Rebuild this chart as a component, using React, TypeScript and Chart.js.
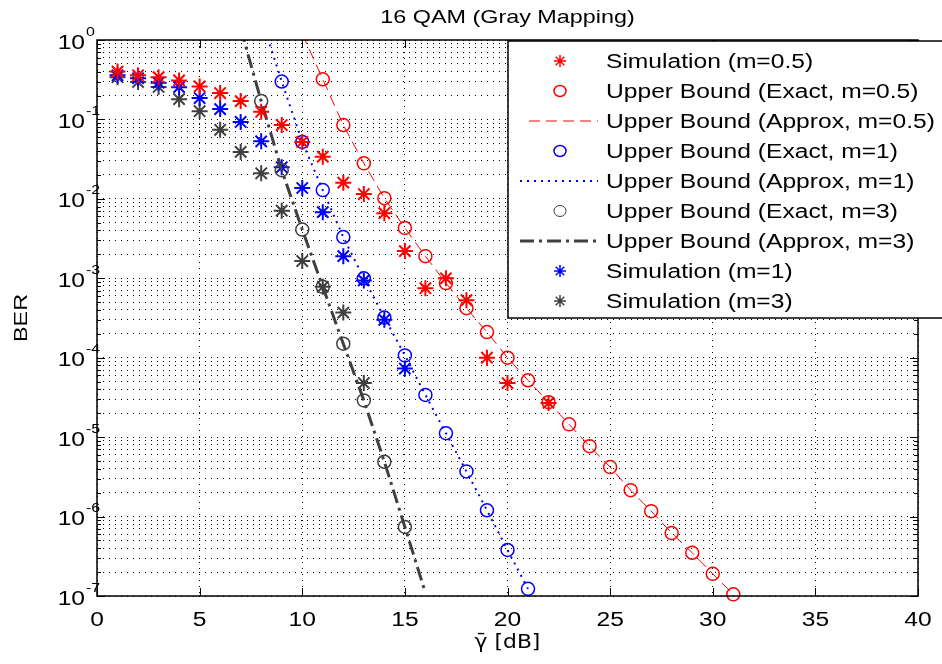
import React, { useEffect, useRef } from 'react';
import { Chart, registerables } from 'chart.js';
Chart.register(...registerables);

// ---------- data ----------
const titleText = '16 QAM (Gray Mapping)';
const xAxisLabel = 'γ̄ [dB]';
const yAxisLabel = 'BER';
const xTickValues = [0, 5, 10, 15, 20, 25, 30, 35, 40];
const yDecadeExponents = [0, -1, -2, -3, -4, -5, -6, -7];

const simM05X = [1, 2, 3, 4, 5, 6, 7, 8, 9, 10, 11, 12, 13, 14, 15, 16, 17, 18, 19, 20, 22];
const simM05Y = [0.40, 0.36, 0.34, 0.31, 0.26, 0.215, 0.17, 0.125, 0.085, 0.052, 0.034, 0.016, 0.0115, 0.0066, 0.0022, 7.5e-4, 1.0e-3, 5.3e-4, 1.0e-4, 4.8e-5, 2.7e-5];

const exactM05X = [11, 12, 13, 14, 15, 16, 17, 18, 19, 20, 21, 22, 23, 24, 25, 26, 27, 28, 29, 30, 31];
const exactM05Y = [0.32, 0.085, 0.028, 0.0102, 0.0043, 0.0019, 8.7e-4, 4.2e-4, 2.1e-4, 1.0e-4, 5.2e-5, 2.75e-5, 1.45e-5, 7.7e-6, 4.2e-6, 2.15e-6, 1.17e-6, 6.2e-7, 3.5e-7, 1.9e-7, 1.05e-7];

const approxM05X = [10, 11, 12, 13, 14, 15, 16, 17, 18, 19, 20, 21, 22, 23, 24, 25, 26, 27, 28, 29, 30, 31];
const approxM05Y = [1.2, 0.32, 0.085, 0.028, 0.0102, 0.0043, 0.0019, 8.7e-4, 4.2e-4, 2.1e-4, 1.0e-4, 5.2e-5, 2.75e-5, 1.45e-5, 7.7e-6, 4.2e-6, 2.15e-6, 1.17e-6, 6.2e-7, 3.5e-7, 1.9e-7, 1.05e-7];

const exactM1X = [9, 10, 11, 12, 13, 14, 15, 16, 17, 18, 19, 20, 21];
const exactM1Y = [0.30, 0.052, 0.0129, 0.0033, 1.0e-3, 3.2e-4, 1.07e-4, 3.4e-5, 1.12e-5, 3.7e-6, 1.2e-6, 3.8e-7, 1.23e-7];

const approxM1X = [8, 9, 10, 11, 12, 13, 14, 15, 16, 17, 18, 19, 20, 21];
const approxM1Y = [1.9, 0.30, 0.052, 0.0129, 0.0033, 1.0e-3, 3.2e-4, 1.07e-4, 3.4e-5, 1.12e-5, 3.7e-6, 1.2e-6, 3.8e-7, 1.23e-7];

const exactM3X = [8, 9, 10, 11, 12, 13, 14, 15];
const exactM3Y = [0.17, 0.023, 0.0041, 7.8e-4, 1.5e-4, 2.9e-5, 4.9e-6, 7.4e-7];

const approxM3X = [7, 8, 9, 10, 11, 12, 13, 14, 15, 16];
const approxM3Y = [1.4, 0.17, 0.023, 0.0041, 7.8e-4, 1.5e-4, 2.9e-5, 4.9e-6, 7.4e-7, 1.1e-7];

const simM1X = [1, 2, 3, 4, 5, 6, 7, 8, 9, 10, 11, 12, 13, 14, 15];
const simM1Y = [0.36, 0.33, 0.29, 0.255, 0.186, 0.135, 0.093, 0.053, 0.025, 0.0137, 0.0068, 0.0019, 9.4e-4, 3.0e-4, 7.3e-5];

const simM3X = [1, 2, 3, 4, 5, 6, 7, 8, 9, 10, 11, 12, 13];
const simM3Y = [0.34, 0.296, 0.256, 0.18, 0.127, 0.074, 0.039, 0.021, 0.0071, 0.00165, 7.8e-4, 3.7e-4, 4.8e-5];

const legendLabels = [
  'Simulation (m=0.5)',
  'Upper Bound (Exact, m=0.5)',
  'Upper Bound (Approx, m=0.5)',
  'Upper Bound (Exact, m=1)',
  'Upper Bound (Approx, m=1)',
  'Upper Bound (Exact, m=3)',
  'Upper Bound (Approx, m=3)',
  'Simulation (m=1)',
  'Simulation (m=3)',
];

// ---------- styles ----------
const RED = '#ff0000';
const BLUE = '#0000ff';
const GRAY = '#404040';
const FONT = '"Liberation Sans", Arial, Helvetica, sans-serif';
const SX = 1.23;

const zip = (xs: number[], ys: number[]) => xs.map((x, i) => ({ x, y: ys[i] }));

const yTickValues: number[] = (() => {
  const out: number[] = [];
  for (let k = -7; k < 0; k++) {
    for (let m = 1; m <= 9; m++) out.push(Number((m * Math.pow(10, k)).toPrecision(3)));
  }
  out.push(1);
  return out;
})();

function text(ctx: CanvasRenderingContext2D, s: string, x: number, y: number, size: number,
  align: CanvasTextAlign, baseline: CanvasTextBaseline = 'middle', sx = SX, rot = 0, family = FONT) {
  ctx.save();
  ctx.translate(x, y);
  if (rot) ctx.rotate(rot);
  ctx.scale(sx, 1);
  ctx.font = `${size}px ${family}`;
  ctx.textAlign = align;
  ctx.textBaseline = baseline;
  ctx.fillStyle = '#000';
  ctx.fillText(s, 0, 0);
  ctx.restore();
}

function drawStar(ctx: CanvasRenderingContext2D, x: number, y: number, r: number, color: string, lw: number) {
  ctx.save();
  ctx.strokeStyle = color;
  ctx.lineWidth = lw;
  ctx.setLineDash([]);
  ctx.beginPath();
  ctx.moveTo(x - r, y); ctx.lineTo(x + r, y);
  ctx.moveTo(x, y - r); ctx.lineTo(x, y + r);
  const d = r * 0.707;
  ctx.moveTo(x - d, y - d); ctx.lineTo(x + d, y + d);
  ctx.moveTo(x - d, y + d); ctx.lineTo(x + d, y - d);
  ctx.stroke();
  ctx.restore();
}

function drawCircle(ctx: CanvasRenderingContext2D, x: number, y: number, r: number, color: string, lw: number) {
  ctx.save();
  ctx.strokeStyle = color;
  ctx.lineWidth = lw;
  ctx.setLineDash([]);
  ctx.beginPath();
  ctx.ellipse(x, y, r * 1.1, r, 0, 0, Math.PI * 2);
  ctx.stroke();
  ctx.restore();
}

type LegendStyle = { kind: 'star' | 'circle' | 'line'; color: string; dash?: number[]; width?: number; x0?: number };
const legendStyles: LegendStyle[] = [
  { kind: 'star', color: RED },
  { kind: 'circle', color: RED },
  { kind: 'line', color: RED, dash: [11, 6], width: 1, x0: 529 },
  { kind: 'circle', color: BLUE },
  { kind: 'line', color: BLUE, dash: [2, 5], width: 2, x0: 520 },
  { kind: 'circle', color: GRAY },
  { kind: 'line', color: GRAY, dash: [14, 5, 3, 5], width: 3, x0: 520 },
  { kind: 'star', color: BLUE },
  { kind: 'star', color: GRAY },
];

const decorPlugin = {
  id: 'matlabDecor',
  afterDraw(chart: any) {
    const ctx: CanvasRenderingContext2D = chart.ctx;
    const a = chart.chartArea;
    const xs = chart.scales.x;
    const ys = chart.scales.y;
    ctx.save();
    ctx.setLineDash([]);
    ctx.strokeStyle = '#000';
    ctx.lineWidth = 1;

    // ticks (inward, all four sides)
    ctx.beginPath();
    xTickValues.forEach((v) => {
      const px = Math.round(xs.getPixelForValue(v)) + 0.5;
      ctx.moveTo(px, a.bottom); ctx.lineTo(px, a.bottom - 8);
      ctx.moveTo(px, a.top); ctx.lineTo(px, a.top + 8);
    });
    yTickValues.forEach((v) => {
      const py = Math.round(ys.getPixelForValue(v)) + 0.5;
      const mant = v / Math.pow(10, Math.floor(Math.log10(v) + 1e-9));
      const len = Math.abs(mant - 1) < 1e-6 ? 8 : 4;
      ctx.moveTo(a.left, py); ctx.lineTo(a.left + len, py);
      ctx.moveTo(a.right, py); ctx.lineTo(a.right - len, py);
    });
    ctx.stroke();

    // box
    ctx.lineWidth = 1.5;
    ctx.strokeRect(a.left, a.top, a.right - a.left, a.bottom - a.top);

    // x tick labels
    xTickValues.forEach((v) => {
      text(ctx, String(v), xs.getPixelForValue(v), a.bottom + 24, 20, 'center');
    });
    // y tick labels
    yDecadeExponents.forEach((e) => {
      const py = ys.getPixelForValue(Math.pow(10, e));
      const expStr = String(e);
      text(ctx, '10', a.left - 12, py + 3, 20, 'right');
      text(ctx, expStr, a.left - 11, py - 8, 13, 'left');
    });

    // title and axis labels
    const cx = (a.left + a.right) / 2;
    text(ctx, titleText, cx, 18, 19, 'center');
    text(ctx, xAxisLabel, cx, 643, 19, 'center', 'middle', 1.15, 0, '"DejaVu Sans", sans-serif');
    text(ctx, yAxisLabel, 22, (a.top + a.bottom) / 2, 19, 'center', 'middle', SX, -Math.PI / 2);

    // legend
    const lx = 508, ly = 41, lw = 460, lh = 277;
    ctx.fillStyle = '#fff';
    ctx.fillRect(lx, ly, lw, lh);
    ctx.strokeStyle = '#000';
    ctx.lineWidth = 1.5;
    ctx.strokeRect(lx, ly, lw, lh);
    legendLabels.forEach((label, i) => {
      const y = 61 + 30 * i;
      const st = legendStyles[i];
      if (st.kind === 'star') drawStar(ctx, 560, y, 6, st.color, 1.5);
      else if (st.kind === 'circle') drawCircle(ctx, 560, y, 5.5, st.color, st.color === GRAY ? 1 : 1.5);
      else {
        ctx.save();
        ctx.strokeStyle = st.color;
        ctx.lineWidth = st.width || 1;
        ctx.setLineDash(st.dash || []);
        ctx.beginPath();
        ctx.moveTo(st.x0 || 529, y);
        ctx.lineTo(598, y);
        ctx.stroke();
        ctx.restore();
      }
      text(ctx, label, 606, y + 1, 20, 'left');
    });
    ctx.restore();
  },
};

export default function App() {
  const ref = useRef<HTMLCanvasElement | null>(null);
  useEffect(() => {
    document.body.style.margin = '0';
    if (!ref.current) return;
    const markerSet = (label: string, xsArr: number[], ysArr: number[], color: string, style: string) => ({
      label,
      data: zip(xsArr, ysArr),
      showLine: false,
      pointStyle: style,
      pointRadius: style === 'star' ? 8 : 6.5,
      pointBorderWidth: style === 'star' ? 2 : 1.5,
      pointBorderColor: color,
      pointBackgroundColor: 'rgba(0,0,0,0)',
      borderColor: color,
      backgroundColor: 'rgba(0,0,0,0)',
      clip: false as any,
    });
    const lineSet = (label: string, xsArr: number[], ysArr: number[], color: string, dash: number[], width: number) => ({
      label,
      data: zip(xsArr, ysArr),
      showLine: true,
      pointRadius: 0,
      borderColor: color,
      borderWidth: width,
      borderDash: dash,
      backgroundColor: 'rgba(0,0,0,0)',
      fill: false,
      tension: 0,
    });
    const chart = new Chart(ref.current, {
      type: 'scatter',
      data: {
        datasets: [
          markerSet(legendLabels[0], simM05X, simM05Y, RED, 'star'),
          markerSet(legendLabels[1], exactM05X, exactM05Y, RED, 'circle'),
          lineSet(legendLabels[2], approxM05X, approxM05Y, RED, [11, 6], 1),
          markerSet(legendLabels[3], exactM1X, exactM1Y, BLUE, 'circle'),
          lineSet(legendLabels[4], approxM1X, approxM1Y, BLUE, [2, 5], 2),
          markerSet(legendLabels[5], exactM3X, exactM3Y, GRAY, 'circle'),
          lineSet(legendLabels[6], approxM3X, approxM3Y, GRAY, [14, 5, 3, 5], 3),
          markerSet(legendLabels[7], simM1X, simM1Y, BLUE, 'star'),
          markerSet(legendLabels[8], simM3X, simM3Y, GRAY, 'star'),
        ] as any,
      },
      options: {
        responsive: false,
        animation: false,
        events: [],
        layout: { padding: { top: 40, right: 24, left: 0, bottom: 0 } },
        plugins: { legend: { display: false }, tooltip: { enabled: false }, title: { display: false } },
        scales: {
          x: {
            type: 'linear',
            min: 0,
            max: 40,
            ticks: { stepSize: 5, display: false },
            grid: { color: '#000', lineWidth: 1, drawTicks: false },
            border: { display: false, dash: [1, 5] },
            afterFit: (s: any) => { s.height = 68; },
          },
          y: {
            type: 'logarithmic',
            min: 1e-7,
            max: 1,
            ticks: { display: false },
            afterBuildTicks: (s: any) => { s.ticks = yTickValues.map((v) => ({ value: v })); },
            grid: { color: '#000', lineWidth: 1, drawTicks: false },
            border: { display: false, dash: [1, 5] },
            afterFit: (s: any) => { s.width = 97; },
          },
        },
      },
      plugins: [decorPlugin],
    } as any);
    return () => chart.destroy();
  }, []);
  return (
    <canvas ref={ref} width={942} height={664} style={{ display: 'block', width: 942, height: 664 }} />
  );
}
